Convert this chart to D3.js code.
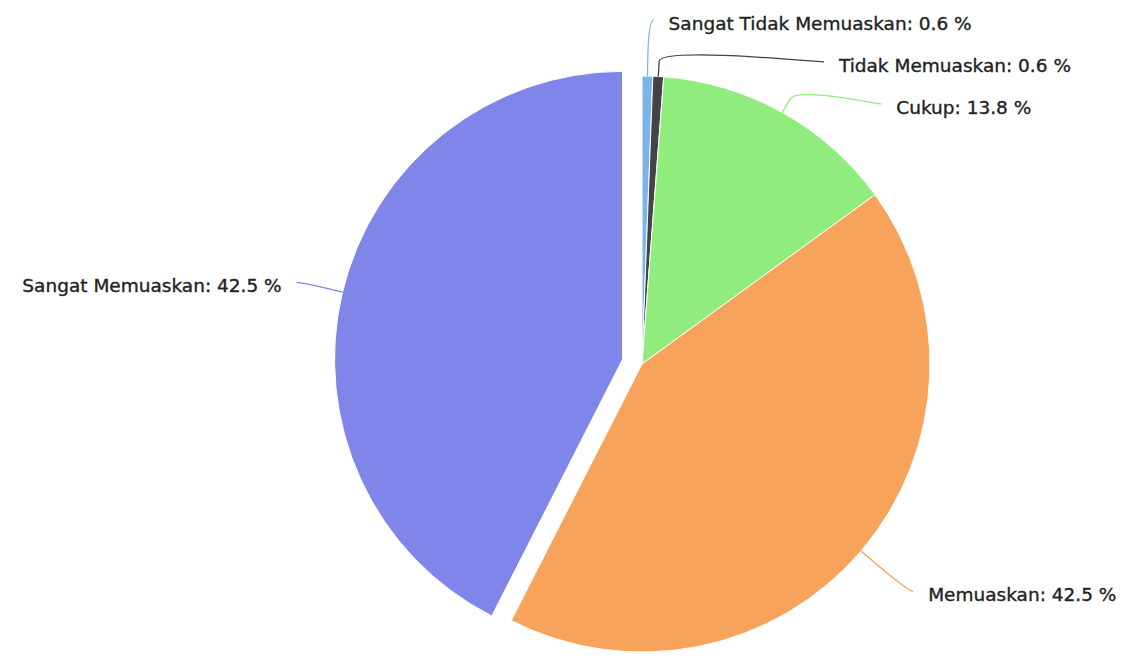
<!DOCTYPE html>
<html>
<head>
<meta charset="utf-8">
<script src="https://cdn.jsdelivr.net/npm/d3@7"></script>
<style>
  html, body { margin: 0; padding: 0; background: #ffffff; }
  svg { display: block; }
</style>
</head>
<body>
<svg id="chart" width="1132" height="663"></svg>
<script>
// Survey satisfaction shares (percent)
const categories = ["Sangat Tidak Memuaskan", "Tidak Memuaskan", "Cukup", "Memuaskan", "Sangat Memuaskan"];
const values = [0.6, 0.6, 13.8, 42.5, 42.5];
const colors = ["#7cb5ec", "#434348", "#90ed7d", "#f7a35c", "#8085e9"];
const slicedFlags = [false, false, false, false, true];

const width = 1132, height = 663;
const cx = 642, cy = 364, radius = 288;
const slicedOffset = 20;      // how far the pulled-out slice moves
const labelDistance = 62;     // label ring distance outside the pie
const breakDistance = 15;     // connector bend just outside the edge
const labelGap = 20;          // space between connector end and text
const minLabelGap = 42;       // min vertical spacing between labels on one side
const topBound = 20;          // labels never go above this y

const data = categories.map((c, i) => ({ name: c, value: values[i], color: colors[i], sliced: slicedFlags[i] }));

const pie = d3.pie().value(d => d.value).sort(null).startAngle(0).endAngle(2 * Math.PI);
const arcs = pie(data);
const arc = d3.arc().innerRadius(0).outerRadius(radius);

const svg = d3.select("#chart");
const g = svg.append("g").attr("transform", `translate(${cx},${cy})`);

const mid = a => (a.startAngle + a.endAngle) / 2;
const shift = a => a.data.sliced
  ? [slicedOffset * Math.sin(mid(a)), -slicedOffset * Math.cos(mid(a))]
  : [0, 0];

// Slices
g.selectAll("path.slice")
  .data(arcs)
  .join("path")
  .attr("class", "slice")
  .attr("d", arc)
  .attr("transform", d => `translate(${shift(d)[0]},${shift(d)[1]})`)
  .attr("fill", d => d.data.color)
  .attr("stroke", "#ffffff")
  .attr("stroke-width", 1)
  .attr("stroke-linejoin", "round");

// Label layout: natural position on an outer ring, then pushed apart per side
const R = radius + labelDistance;
const labels = arcs.map(a => {
  const m = mid(a);
  const [sx, sy] = shift(a);
  return {
    arc: a,
    right: m < Math.PI,
    x: R * Math.sin(m),
    y: -R * Math.cos(m),
    edge: [sx + radius * Math.sin(m), sy - radius * Math.cos(m)],
    brk: [sx + (radius + breakDistance) * Math.sin(m), sy - (radius + breakDistance) * Math.cos(m)]
  };
});

[true, false].forEach(side => {
  const list = labels.filter(l => l.right === side).sort((a, b) => a.y - b.y);
  let prev = -Infinity;
  list.forEach(l => {
    let y = l.y;
    const minY = topBound - cy;
    if (y < minY) y = minY;
    if (y < prev + minLabelGap) {
      y = prev + minLabelGap;
      l.x = (l.right ? 1 : -1) * Math.sqrt(Math.max(0, R * R - y * y));
    }
    l.y = y;
    prev = y;
  });
});

// Connectors
g.selectAll("path.connector")
  .data(labels)
  .join("path")
  .attr("class", "connector")
  .attr("fill", "none")
  .attr("stroke", d => d.arc.data.color)
  .attr("stroke-width", 1.3)
  .attr("d", d => {
    const dir = d.right ? 1 : -1;
    const c2x = 2 * d.brk[0] - d.edge[0], c2y = 2 * d.brk[1] - d.edge[1];
    return `M${d.x + dir * 5},${d.y} C${d.x},${d.y} ${c2x},${c2y} ${d.brk[0]},${d.brk[1]} L${d.edge[0]},${d.edge[1]}`;
  });

// Label text
g.selectAll("text.label")
  .data(labels)
  .join("text")
  .attr("class", "label")
  .attr("x", d => d.x + (d.right ? labelGap : -labelGap))
  .attr("y", d => d.y + 10)
  .attr("text-anchor", d => d.right ? "start" : "end")
  .attr("font-family", "'DejaVu Sans', sans-serif")
  .attr("font-size", "18.5px")
  .attr("fill", "#222222")
  .attr("stroke", "#222222")
  .attr("stroke-width", 0.35)
  .text(d => `${d.arc.data.name}: ${d.arc.data.value.toFixed(1)} %`);
</script>
</body>
</html>
